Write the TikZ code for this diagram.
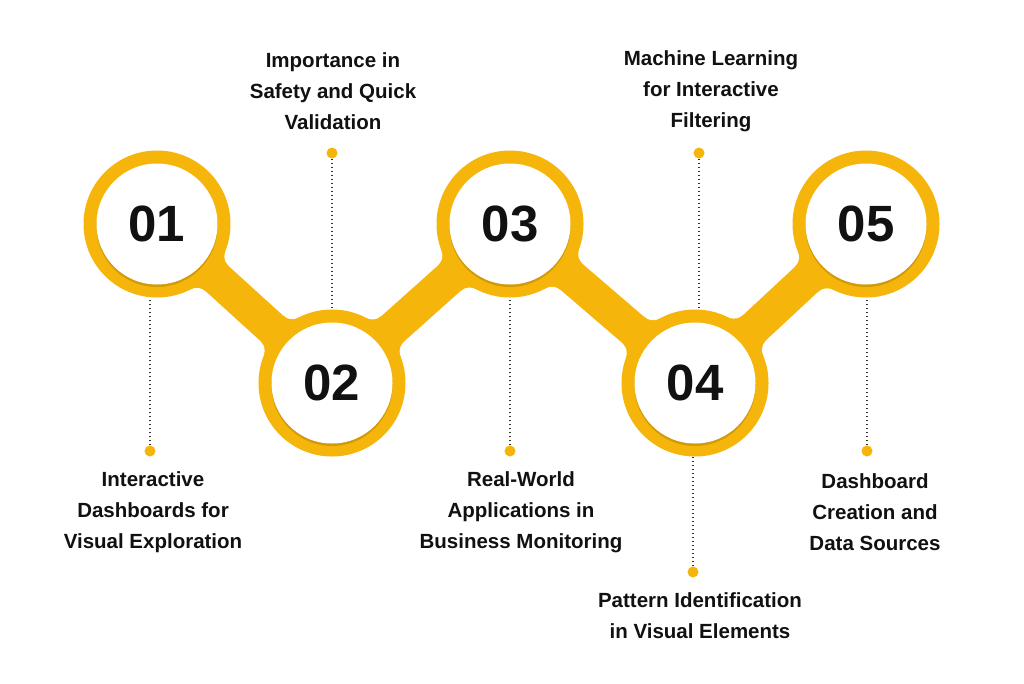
\documentclass[tikz,border=0pt]{standalone}
\usepackage{fontspec}
\setmainfont{Liberation Sans}
\usetikzlibrary{shadows}
\definecolor{yel}{HTML}{F5B50A}
\definecolor{dotc}{HTML}{333333}
\definecolor{ink}{HTML}{111111}
\begin{document}
\begin{tikzpicture}[x=1pt,y=-1pt,
  lbl/.style={font=\bfseries\fontsize{20.5}{31}\selectfont, align=center, text=ink},
  ringnode/.style={circle, fill=yel, minimum size=147pt, inner sep=0pt},
  numnode/.style={circle, fill=white, minimum size=121pt, inner sep=0pt, text=ink,
     font=\bfseries\fontsize{51}{51}\selectfont,
     drop shadow={shadow xshift=0pt, shadow yshift=-2.5pt, opacity=0.15, fill=black}},
  pinnode/.style={circle, fill=yel, minimum size=11pt, inner sep=0pt},
  leader/.style={dotc, line width=1.6pt, dash pattern=on 1.6pt off 2.4pt},
  band/.style={yel, line width=34pt}]
\fill[white] (0,0) rectangle (1024,683);
\useasboundingbox (0,0) rectangle (1024,683);

% centres
\coordinate (k1) at (157,224);
\coordinate (k2) at (332,383);
\coordinate (k3) at (510,224);
\coordinate (k4) at (695,383);
\coordinate (k5) at (866,224);

% fillets between band and rings
\pgfmathsetmacro\aa{sqrt(87.5*87.5-31*31)}
\pgfmathsetmacro\bb{atan2(31,\aa)}
\foreach \ax/\ay/\bx/\by in {157/224/332/383, 332/383/510/224, 510/224/695/383, 695/383/866/224}{
  \pgfmathsetmacro\ang{atan2(\by-\ay,\bx-\ax)}
  \foreach \cx/\cy/\dd in {\ax/\ay/0, \bx/\by/180}{
    \foreach \s in {1,-1}{
      \pgfmathsetmacro\u{\ang+\dd}
      \pgfmathsetmacro\ph{\u+\s*\bb}
      \pgfmathsetmacro\trx{\cx+73.5*cos(\ph)}
      \pgfmathsetmacro\try{\cy+73.5*sin(\ph)}
      \pgfmathsetmacro\fx{\cx+87.5*cos(\ph)}
      \pgfmathsetmacro\fy{\cy+87.5*sin(\ph)}
      \pgfmathsetmacro\axx{\cx+\aa*cos(\u)}
      \pgfmathsetmacro\ayy{\cy+\aa*sin(\u)}
      \pgfmathsetmacro\tbx{\axx+17*\s*cos(\u+90)}
      \pgfmathsetmacro\tby{\ayy+17*\s*sin(\u+90)}
      \fill[yel] (\cx,\cy) -- (\trx,\try) -- (\fx,\fy) -- (\tbx,\tby) -- (\axx,\ayy) -- cycle;
      \fill[white] (\fx,\fy) circle[radius=14];
    }
  }
}

% band
\draw[band] (k1) -- (k2) -- (k3) -- (k4) -- (k5);

% rings
\node[ringnode] (r1) at (k1) {};
\node[ringnode] (r2) at (k2) {};
\node[ringnode] (r3) at (k3) {};
\node[ringnode] (r4) at (k4) {};
\node[ringnode] (r5) at (k5) {};

% number discs
\node[numnode] (n1) at (k1) {01};
\node[numnode] (n2) at (k2) {02};
\node[numnode] (n3) at (k3) {03};
\node[numnode] (n4) at (k4) {04};
\node[numnode] (n5) at (k5) {05};

% pins
\node[pinnode] (p1) at (150,451) {};
\node[pinnode] (p2) at (332,153) {};
\node[pinnode] (p3) at (510,451) {};
\node[pinnode] (p4) at (699,153) {};
\node[pinnode] (p6) at (693,572) {};
\node[pinnode] (p5) at (867,451) {};

% leaders
\draw[leader] (p1.north) -- (p1 |- r1.south);
\draw[leader] (p2.south) -- (p2 |- r2.north);
\draw[leader] (p3.north) -- (p3 |- r3.south);
\draw[leader] (p4.south) -- (p4 |- r4.north);
\draw[leader] (p6.north) -- (p6 |- r4.south);
\draw[leader] (p5.north) -- (p5 |- r5.south);

% labels
\node[lbl] (t1) at (153,512) {Interactive\\Dashboards for\\Visual Exploration};
\node[lbl] (t2) at (333,91) {Importance in\\Safety and Quick\\Validation};
\node[lbl] (t3) at (521,512) {Real-World\\Applications in\\Business Monitoring};
\node[lbl] (t4) at (711,91) {Machine Learning\\for Interactive\\Filtering};
\node[lbl] (t6) at (700,616) {Pattern Identification\\in Visual Elements};
\node[lbl] (t5) at (875,512) {Dashboard\\Creation and\\Data Sources};
\end{tikzpicture}
\end{document}
